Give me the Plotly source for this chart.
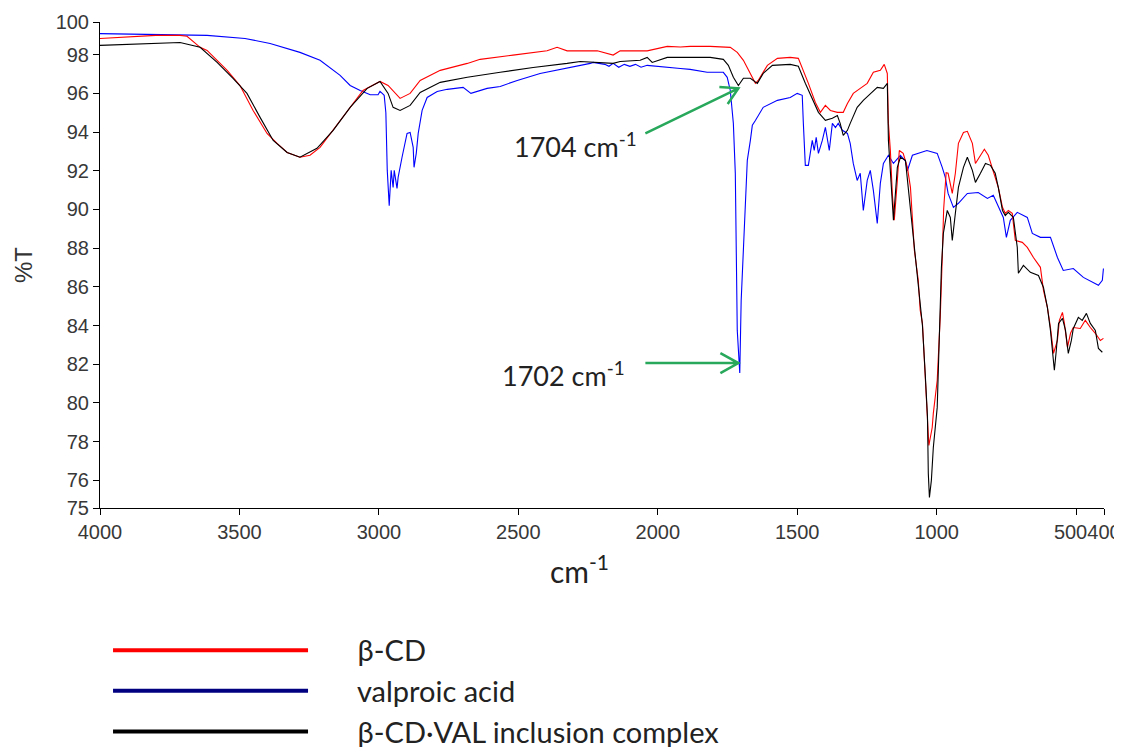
import plotly.graph_objects as go

# ---------------- data ----------------
bcd_wn = [4000, 3800, 3713, 3688, 3641, 3616, 3544, 3498, 3451, 3401, 3365, 3329, 3283, 3247, 3211,
          3164, 3103, 3057, 2996, 2967, 2924, 2888, 2852, 2780, 2683, 2637, 2519, 2397, 2361, 2325,
          2217, 2160, 2135, 2038, 1966, 1919, 1884, 1812, 1740, 1715, 1693, 1668, 1650, 1640, 1607,
          1571, 1525, 1496, 1478, 1460, 1435, 1417, 1399, 1381, 1356, 1335, 1320, 1299, 1274, 1249,
          1227, 1202, 1188, 1177, 1173, 1166, 1159, 1152, 1141, 1134, 1120, 1105, 1094, 1087, 1080,
          1066, 1059, 1051, 1041, 1033, 1028, 1016, 1012, 998, 987, 980, 975, 966, 959, 944, 933,
          922, 904, 890, 872, 861, 843, 829, 815, 797, 779, 764, 754, 743, 729, 718, 693, 675, 653,
          628, 617, 603, 592, 581, 567, 560, 549, 542, 531, 520, 510, 485, 467, 449, 431, 413, 402]
bcd_t = [98.84, 99.0, 99.0, 98.95, 98.38, 98.22, 97.19, 96.41, 95.12, 93.93, 93.42, 92.95, 92.70, 92.80, 93.21,
         94.09, 95.28, 96.15, 96.62, 96.41, 95.74, 96.0, 96.67, 97.19, 97.55, 97.76, 97.98, 98.2, 98.38, 98.2,
         98.2, 97.98, 98.2, 98.2, 98.43, 98.40, 98.43, 98.43, 98.38, 98.12, 97.71, 97.03, 96.52, 96.67, 97.45,
         97.81, 97.86, 97.81, 97.19, 96.52, 95.53, 95.02, 95.38, 95.12, 95.02, 95.02, 95.48, 96.0, 96.26, 96.52,
         97.09, 97.19, 97.50, 97.03, 94.45, 93.05, 90.83, 89.44, 91.50, 93.05, 92.90, 92.18, 91.14, 89.44, 87.9,
         86.34, 84.79, 84.11, 81.53, 79.46, 77.8, 78.73, 79.46, 81.17, 84.5, 87.5, 90.0, 91.9, 91.87, 90.83, 91.87,
         93.42, 93.98, 94.04, 93.42, 92.38, 92.80, 93.11, 92.80, 92.02, 91.14, 90.11, 89.80, 89.95, 89.80, 88.40, 88.30, 88.04, 87.52,
         87.01, 85.82, 84.94, 83.90, 82.56, 83.23, 84.27, 84.68, 84.11, 82.87, 83.60, 83.90, 83.85, 84.27, 83.90, 83.60, 83.23, 83.34]

val_wn = [4000, 3616, 3480, 3390, 3283, 3211, 3139, 3103, 3067, 3031, 3003, 2996, 2988, 2981, 2975,
          2970, 2963, 2956, 2949, 2945, 2935, 2931, 2917, 2899, 2888, 2877, 2874, 2866, 2859, 2845,
          2827, 2791, 2755, 2698, 2670, 2612, 2565, 2504, 2422, 2325, 2242, 2232, 2190, 2175, 2160,
          2140, 2120, 2100, 2080, 2060, 2038, 1919, 1884, 1823, 1765, 1751, 1740, 1729, 1722, 1715,
          1708, 1706, 1701, 1693, 1686, 1679, 1668, 1661, 1650, 1622, 1571, 1525, 1500, 1482, 1478,
          1471, 1460, 1446, 1439, 1432, 1424, 1410, 1399, 1392, 1385, 1374, 1363, 1353, 1338, 1320,
          1310, 1299, 1285, 1274, 1263, 1249, 1238, 1227, 1213, 1202, 1191, 1173, 1155, 1130, 1112,
          1105, 1087, 1035, 998, 980, 969, 959, 940, 922, 890, 851, 818, 797, 779, 761, 750, 736,
          711, 675, 657, 628, 592, 567, 546, 510, 474, 438, 420, 406, 402]
val_t = [99.09, 99.0, 98.84, 98.58, 98.12, 97.71, 96.93, 96.41, 96.15, 95.93, 95.93, 96.1, 96.0, 95.9, 95.0,
         92.02, 90.2, 92.02, 91.14, 92.02, 91.09, 91.66, 92.70, 93.93, 93.98, 93.21, 92.18, 92.90, 93.93, 95.12,
         95.79, 96.10, 96.21, 96.31, 96.0, 96.26, 96.36, 96.67, 97.03, 97.29, 97.55, 97.60, 97.5, 97.4, 97.55,
         97.35, 97.5, 97.4, 97.5, 97.35, 97.45, 97.29, 97.24, 97.09, 97.09, 96.83, 96.15, 94.45, 91.87, 83.75,
         81.58, 81.55, 85.3, 88.25, 90.47, 92.54, 93.57, 94.35, 94.6, 95.28, 95.64, 95.79, 96.0, 95.90, 94.45,
         92.28, 92.28, 93.57, 93.05, 93.73, 92.90, 93.57, 94.24, 93.57, 93.05, 94.45, 94.24, 94.45, 94.09, 93.93,
         93.42, 92.38, 91.50, 91.87, 89.95, 91.50, 92.02, 90.99, 89.28, 91.35, 92.38, 92.80, 92.38, 92.80, 92.5,
         92.0, 92.8, 93.05, 92.90, 92.18, 91.66, 90.83, 90.11, 90.32, 90.83, 90.88, 90.57, 90.73, 90.11, 89.59, 88.56, 89.44,
         89.85, 89.59, 88.76, 88.56, 88.56, 87.52, 86.85, 86.95, 86.49, 86.23, 86.08, 86.34, 86.95]

cplx_wn = [4000, 3810, 3713, 3641, 3580, 3523, 3473, 3426, 3379, 3329, 3283, 3222, 3164, 3103, 3042,
           2996, 2967, 2949, 2924, 2888, 2852, 2780, 2683, 2565, 2447, 2325, 2278, 2160, 2135, 2063,
           2038, 2020, 1966, 1812, 1765, 1747, 1729, 1711, 1693, 1668, 1643, 1622, 1589, 1525, 1496,
           1471, 1446, 1424, 1399, 1374, 1356, 1346, 1335, 1320, 1310, 1285, 1263, 1238, 1213, 1191,
           1177, 1173, 1166, 1155, 1141, 1130, 1112, 1102, 1087, 1066, 1051, 1041, 1033, 1030, 1026,
           1019, 1012, 998, 990, 983, 976, 962, 951, 944, 933, 922, 904, 890, 872, 861, 843, 825,
           807, 790, 779, 764, 754, 743, 725, 711, 707, 689, 664, 635, 617, 603, 592, 585, 578, 571,
           563, 549, 538, 528, 517, 510, 492, 478, 463, 449, 431, 420, 406]
cplx_t = [98.48, 98.58, 98.63, 98.38, 97.60, 96.78, 96.0, 94.76, 93.57, 92.95, 92.70, 93.16, 94.09, 95.28, 96.26,
          96.62, 96.0, 95.28, 95.12, 95.38, 96.05, 96.57, 96.83, 97.09, 97.34, 97.55, 97.65, 97.55, 97.65, 97.71,
          97.86, 97.6, 97.86, 97.86, 97.76, 97.45, 96.83, 96.41, 96.78, 96.78, 96.52, 97.03, 97.45, 97.50, 97.40,
          96.52, 95.74, 95.02, 94.61, 94.71, 94.86, 94.45, 93.83, 94.09, 94.45, 95.28, 95.64, 96.0, 96.31, 96.26,
          96.52, 93.57, 91.87, 89.44, 92.18, 92.70, 92.54, 91.14, 89.07, 86.3, 84.0, 81.5, 79.3, 76.36, 75.12,
          76.0, 77.70, 79.77, 83.75, 87.0, 88.76, 89.95, 89.59, 88.40, 89.80, 91.14, 92.18, 92.70, 92.02, 91.40, 91.87, 92.38,
          92.28, 91.87, 91.14, 89.95, 89.69, 89.85, 89.59, 88.04, 86.70, 87.11, 86.75, 86.59, 85.97, 84.94, 83.75, 82.72, 81.69, 82.72,
          84.11, 84.37, 83.75, 82.56, 83.23, 83.85, 84.42, 84.27, 84.63, 84.11, 83.75, 82.82, 82.62]

series_names = ["β-CD", "valproic acid", "β-CD·VAL inclusion complex"]
x_tick_vals = [4000, 3500, 3000, 2500, 2000, 1500, 1000, 500, 400]
x_tick_text = ["4000", "3500", "3000", "2500", "2000", "1500", "1000", "500\u00a0\u00a0", "400"]
y_min, y_max = 74.57, 99.69
y_tick_vals = [y_min, 76, 78, 80, 82, 84, 86, 88, 90, 92, 94, 96, 98, y_max]
y_tick_text = ["75", "76", "78", "80", "82", "84", "86", "88", "90", "92", "94", "96", "98", "100"]

LINE_COLORS = ["#ff0000", "#0000ff", "#000000"]
LEGEND_COLORS = ["#ff0000", "#000080", "#000000"]
GREEN = "#27a85b"
AX_FONT = dict(family="Liberation Sans, Arial, sans-serif", size=20, color="#383838")
TXT_FAMILY = "Lato, Open Sans, sans-serif"
PAD = "\u00a0" * 6  # gap between legend swatch and label

fig = go.Figure()
for wn, t, name, col in [(val_wn, val_t, series_names[1], LINE_COLORS[1]),
                         (bcd_wn, bcd_t, series_names[0], LINE_COLORS[0]),
                         (cplx_wn, cplx_t, series_names[2], LINE_COLORS[2])]:
    fig.add_trace(go.Scatter(x=wn, y=t, mode="lines", name=name, showlegend=False,
                             line=dict(color=col, width=1.1)))

# legend entries (thicker swatches, as in the reference)
for i, name in enumerate(series_names):
    fig.add_trace(go.Scatter(x=[None], y=[None], mode="lines", name=PAD + name,
                             showlegend=True,
                             line=dict(color=LEGEND_COLORS[i], width=4)))

# the page body adds an 8px offset, margins compensate for it
fig.update_layout(
    width=1122, height=747,
    margin=dict(l=92, r=26.4, t=13.7, b=247.3, autoexpand=False),
    paper_bgcolor="white", plot_bgcolor="white",
    showlegend=True,
    legend=dict(x=0.008, y=-0.2403, xanchor="left", yanchor="top",
                orientation="v", traceorder="normal",
                itemwidth=195, font=dict(family=TXT_FAMILY, size=29, color="#222222"),
                bgcolor="rgba(0,0,0,0)"),
    xaxis=dict(range=[4000, 400], tickmode="array", tickvals=x_tick_vals, ticktext=x_tick_text,
               tickangle=0, automargin=False,
               showline=True, linecolor="black", linewidth=1, ticks="outside", ticklen=6,
               tickcolor="black", showgrid=False, zeroline=False, tickfont=AX_FONT),
    yaxis=dict(range=[y_min, y_max], tickmode="array", tickvals=y_tick_vals, ticktext=y_tick_text,
               automargin=False,
               showline=True, linecolor="black", linewidth=1, ticks="outside", ticklen=6,
               tickcolor="black", showgrid=False, zeroline=False, tickfont=AX_FONT,
               title=dict(text="%T", font=dict(family="Liberation Sans, Arial, sans-serif", size=24,
                                                color="#333333"), standoff=16)),
)

# x-axis title
fig.add_annotation(text="cm<sup>-1</sup>", xref="paper", yref="paper", x=0.478, y=-0.0804,
                   xanchor="center", yanchor="top", showarrow=False,
                   font=dict(family=TXT_FAMILY, size=30, color="#222222"))

# peak labels
fig.add_annotation(text="1704 cm<sup>-1</sup>", xref="x", yref="y", x=2066, y=93.31,
                   xanchor="right", yanchor="middle", showarrow=False,
                   font=dict(family=TXT_FAMILY, size=27, color="#222222"))
fig.add_annotation(text="1702 cm<sup>-1</sup>", xref="x", yref="y", x=2110, y=81.50,
                   xanchor="right", yanchor="middle", showarrow=False,
                   font=dict(family=TXT_FAMILY, size=27, color="#222222"))

# green arrows (pixel-sized paths anchored at their tips)
fig.add_shape(type="path", xref="x", yref="y", xsizemode="pixel", ysizemode="pixel",
              xanchor=1711, yanchor=96.26,
              path="M-93,-45 L0,0 M-19,1.4 L0,0 L-10.7,-15.7",
              line=dict(color=GREEN, width=2.5))
fig.add_shape(type="path", xref="x", yref="y", xsizemode="pixel", ysizemode="pixel",
              xanchor=1711, yanchor=82.06,
              path="M-93,0 L0,0 M-18,10 L0,0 L-18,-10",
              line=dict(color=GREEN, width=2.5))

fig.write_html("out.html")
